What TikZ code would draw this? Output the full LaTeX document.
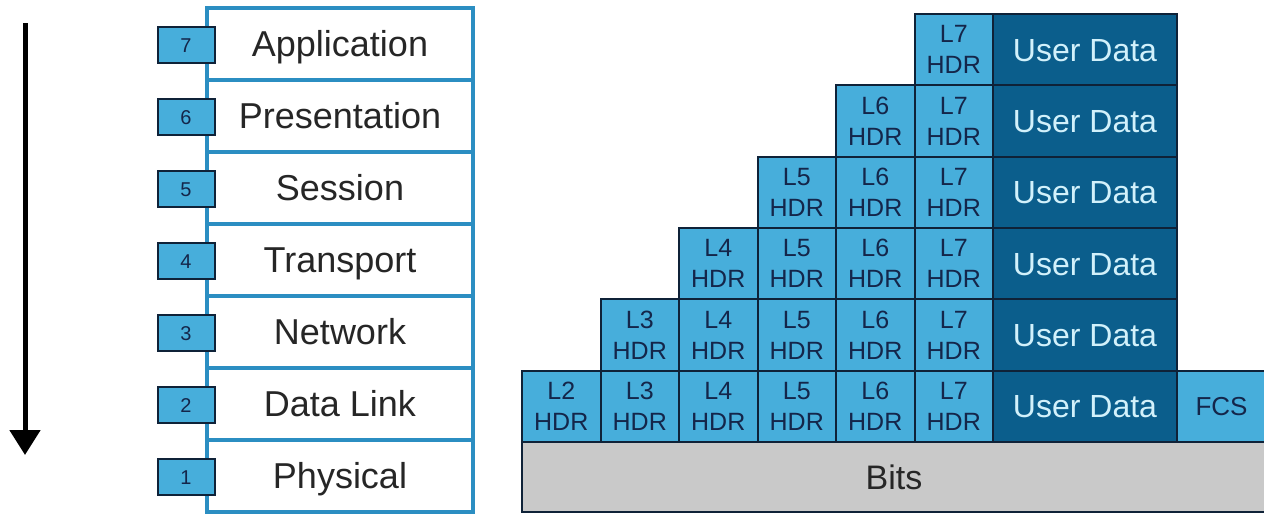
\documentclass[tikz,border=0pt]{standalone}
\usepackage{fontspec}
\setmainfont{Liberation Sans}
\usetikzlibrary{arrows.meta}
\definecolor{lb}{HTML}{47AEDB}
\definecolor{db}{HTML}{0B5E8C}
\definecolor{udtext}{HTML}{D2F1FB}
\definecolor{navy}{HTML}{14264A}
\definecolor{edge}{HTML}{0F2238}
\definecolor{stackblue}{HTML}{2B8EC2}
\definecolor{bitsgray}{HTML}{C9C9C9}
\begin{document}
\begin{tikzpicture}[x=0.5pt,y=-0.5pt,
  layer/.style={draw=stackblue, line width=1.6pt, fill=white, minimum width=133pt, minimum height=36pt, inner sep=0pt, outer sep=0pt, font=\fontsize{18}{20}\selectfont, text=black!85, text height=12.9pt, text depth=0pt},
  numbox/.style={draw=edge, line width=1pt, fill=lb, minimum width=28.5pt, minimum height=18pt, inner sep=0pt, outer sep=0pt, font=\fontsize{10}{12}\selectfont, text=navy, text height=7.2pt, text depth=0pt},
  hdr/.style={draw=edge, line width=1pt, fill=lb, minimum width=39.25pt, minimum height=35.67pt, inner sep=0pt, outer sep=0pt, align=center, font=\fontsize{12.5}{15.5}\selectfont, text=navy},
  udata/.style={draw=edge, line width=1pt, fill=db, minimum width=92pt, minimum height=35.67pt, inner sep=0pt, outer sep=0pt, font=\fontsize{16}{18}\selectfont, text=udtext, text height=11.5pt, text depth=0pt},
  fcs/.style={draw=edge, line width=1pt, fill=lb, minimum width=44.5pt, minimum height=35.67pt, inner sep=0pt, outer sep=0pt, font=\fontsize{13}{15}\selectfont, text=navy, text height=9.3pt, text depth=0pt},
  bits/.style={draw=edge, line width=1pt, fill=bitsgray, minimum width=372pt, minimum height=35pt, inner sep=0pt, outer sep=0pt, font=\fontsize{17}{19}\selectfont, text=black!85, text height=12.2pt, text depth=0pt},
  arr/.style={line width=2.5pt, -{Triangle[width=15pt,length=12.5pt]}}
]
\useasboundingbox (0,0) rectangle (1264,514);
% arrow
\coordinate (as) at (25,23);
\coordinate (ae) at (25,455);
\draw[arr] (as) -- (ae);
% left stack
\foreach \n/\name in {7/Application,6/Presentation,5/Session,4/Transport,3/Network,2/Data Link,1/Physical}{
  \pgfmathsetmacro\yc{8+(7-\n)*72+36}
  \node[layer] (lay\n) at (340,\yc) {\name};
}
\foreach \n in {7,...,1}{
  \pgfmathsetmacro\yc{8+(7-\n)*72+37}
  \node[numbox] (num\n) at (186,\yc) {\n};
}
% right grid
\foreach \r in {1,...,6}{
  \pgfmathsetmacro\yc{14+(\r-1)*71.33+35.67}
  \pgfmathtruncatemacro\kstart{7-\r}
  \foreach \k in {\kstart,...,6}{
    \pgfmathtruncatemacro\lay{\k+1}
    \node[hdr] (h\r-\k) at ({522+(\k-1)*78.5+39.25},\yc) {L\lay\\HDR};
  }
  \node[udata] (ud\r) at (1085,\yc) {User Data};
}
\node[fcs] (fcs) at (1221.5,{14+5*71.33+35.67}) {FCS};
\node[bits] (bits) at (894,477) {Bits};
\end{tikzpicture}
\end{document}
